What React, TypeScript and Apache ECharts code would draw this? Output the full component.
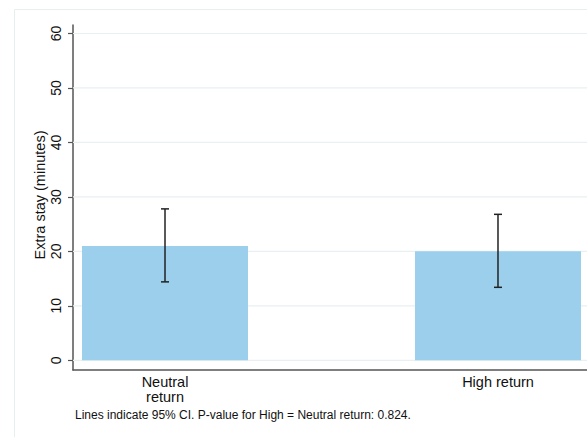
import React, { useEffect, useRef } from "react";
import * as echarts from "echarts";

const categories = ["Neutral\nreturn", "High return"];
const xPos = [0, 1];
const means = [21.0, 20.0];
const ciLow = [14.4, 13.4];
const ciHigh = [27.8, 26.8];
const yTicks = [0, 10, 20, 30, 40, 50, 60];
const yTitle = "Extra stay (minutes)";
const note = "Lines indicate 95% CI. P-value for High = Neutral return: 0.824.";

const FONT = "'Liberation Sans', Arial, sans-serif";

export default function App() {
  const ref = useRef<HTMLDivElement>(null);
  useEffect(() => {
    if (!ref.current) return;
    const chart = echarts.init(ref.current, null, { renderer: "svg" });
    const option: any = {
      animation: false,
      backgroundColor: "#ffffff",
      textStyle: { fontFamily: FONT },
      grid: { left: 73, right: 0, top: 25, bottom: 67, containLabel: false },
      graphic: [
        {
          type: "rect",
          shape: { x: 14.5, y: 9.5, width: 620, height: 480 },
          style: { fill: "none", stroke: "#e6eef0", lineWidth: 1 },
          z: -10,
          silent: true,
        },
        {
          type: "text",
          x: 40,
          y: 195,
          rotation: Math.PI / 2,
          style: {
            text: yTitle,
            font: `14.5px ${FONT}`,
            fill: "#111",
            align: "center",
            verticalAlign: "middle",
          },
        },
        {
          type: "text",
          left: 75,
          top: 409,
          style: { text: note, font: `12px ${FONT}`, fill: "#111" },
        },
      ],
      xAxis: {
        type: "value",
        min: -0.2763,
        max: 1.2673,
        splitLine: { show: false },
        axisLine: { show: true, onZero: false, lineStyle: { color: "#555", width: 1.5 } },
        axisTick: { show: false },
        axisLabel: {
          customValues: xPos,
          formatter: (v: number) => categories[xPos.indexOf(Math.round(v))] ?? "",
          color: "#111",
          fontSize: 14.5,
          lineHeight: 15.5,
          margin: 4,
          fontFamily: FONT,
        },
      },
      yAxis: {
        type: "value",
        min: -1.78,
        max: 61.56,
        splitLine: { show: false },
        axisLine: { show: true, onZero: false, lineStyle: { color: "#555", width: 1.5 } },
        axisTick: { show: true, customValues: yTicks, length: 5, lineStyle: { color: "#555", width: 1.2 } },
        axisLabel: {
          customValues: yTicks,
          rotate: 90,
          color: "#111",
          fontSize: 14,
          margin: 10,
          fontFamily: FONT,
        },
      },
      series: [
        {
          type: "custom",
          z: 1,
          silent: true,
          data: yTicks.map((v) => [v]),
          renderItem: (params: any, api: any) => {
            const cs = params.coordSys;
            const y = api.coord([0, api.value(0)])[1];
            return {
              type: "line",
              shape: { x1: cs.x, y1: y, x2: cs.x + cs.width, y2: y },
              style: { stroke: "#e8f0f2", lineWidth: 1.2 },
            };
          },
        },
        {
          type: "bar",
          z: 2,
          barWidth: 166,
          itemStyle: { color: "#9ccfec" },
          data: xPos.map((x, i) => [x, means[i]]),
        },
        {
          type: "custom",
          z: 3,
          data: xPos.map((x, i) => [x, ciLow[i], ciHigh[i]]),
          renderItem: (params: any, api: any) => {
            const x = api.value(0);
            const lo = api.coord([x, api.value(1)]);
            const hi = api.coord([x, api.value(2)]);
            const half = 4;
            const style = { stroke: "#222", lineWidth: 1.5 };
            return {
              type: "group",
              children: [
                { type: "line", shape: { x1: lo[0], y1: lo[1], x2: hi[0], y2: hi[1] }, style },
                { type: "line", shape: { x1: lo[0] - half, y1: lo[1], x2: lo[0] + half, y2: lo[1] }, style },
                { type: "line", shape: { x1: hi[0] - half, y1: hi[1], x2: hi[0] + half, y2: hi[1] }, style },
              ],
            };
          },
        },
      ],
    };
    chart.setOption(option);
    return () => chart.dispose();
  }, []);
  return <div ref={ref} style={{ width: 587, height: 437, position: "absolute", left: 0, top: 0 }} />;
}
